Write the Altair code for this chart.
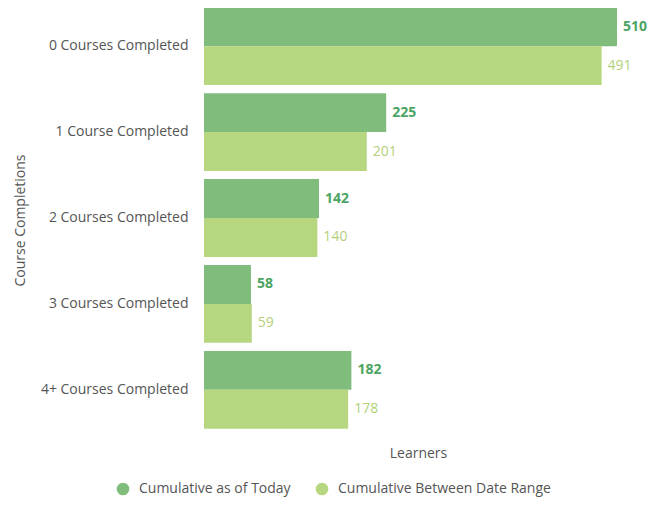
import altair as alt
import pandas as pd

categories = ["0 Courses Completed", "1 Course Completed", "2 Courses Completed",
              "3 Courses Completed", "4+ Courses Completed"]
series = ["Cumulative as of Today", "Cumulative Between Date Range"]
today = [510, 225, 142, 58, 182]
date_range = [491, 201, 140, 59, 178]

bar_colors = ["#80bd7c", "#b6d77f"]
text_colors = ["#4ca463", "#b3d07a"]

rows = []
for c, a, b in zip(categories, today, date_range):
    rows.append({"category": c, "series": series[0], "value": a})
    rows.append({"category": c, "series": series[1], "value": b})
df = pd.DataFrame(rows)

FONT = "Open Sans"
GREY = "#555555"

y_enc = alt.Y("category:N", sort=categories,
              scale=alt.Scale(paddingInner=0.095, paddingOuter=0.05),
              axis=alt.Axis(title="Course Completions", domain=False, ticks=False,
                            labelFontSize=14, labelColor=GREY, labelFont=FONT,
                            labelPadding=16, titleFont=FONT, titleFontSize=14,
                            titleFontWeight="normal", titleColor=GREY,
                            titleX=-184, titleY=217, titleAngle=-90,
                            titleAlign="center", titleBaseline="middle"))
yoff = alt.YOffset("series:N", sort=series)
x_enc = alt.X("value:Q", scale=alt.Scale(domain=[0, 510], nice=False),
              axis=alt.Axis(title="Learners", labels=False, ticks=False, domain=False,
                            grid=False, titleFont=FONT, titleFontSize=14,
                            titleFontWeight="normal", titleColor=GREY,
                            titleX=214, titleY=20, titleAlign="center",
                            titleBaseline="middle"))

bars = alt.Chart(df).mark_bar().encode(
    x=x_enc, y=y_enc, yOffset=yoff,
    color=alt.Color("series:N", sort=series,
                    scale=alt.Scale(domain=series, range=bar_colors),
                    legend=alt.Legend(title=None, orient="none", direction="horizontal",
                                      legendX=-88, legendY=479, symbolType="circle",
                                      symbolSize=160, symbolStrokeWidth=0,
                                      labelFont=FONT, labelFontSize=14, labelLimit=400,
                                      labelColor=GREY, columnPadding=24,
                                      labelOffset=9)),
)

lab_today = alt.Chart(df).transform_filter(alt.datum.series == series[0]).mark_text(
    align="left", baseline="middle", dx=6, fontSize=14, fontWeight="bold",
    font=FONT, color=text_colors[0]
).encode(x="value:Q", y=alt.Y("category:N", sort=categories), yOffset=yoff,
         text="value:Q")

lab_range = alt.Chart(df).transform_filter(alt.datum.series == series[1]).mark_text(
    align="left", baseline="middle", dx=6, fontSize=14,
    font=FONT, color=text_colors[1]
).encode(x="value:Q", y=alt.Y("category:N", sort=categories), yOffset=yoff,
         text="value:Q")

chart = alt.layer(bars, lab_today, lab_range).properties(
    width=413, height=430,
    autosize=alt.AutoSizeParams(type="none"),
    padding={"left": 196, "top": -5, "right": 31, "bottom": 66},
).configure(background="white").configure_view(stroke=None, strokeWidth=0)

chart.save("out.html", embed_options={"renderer": "svg", "actions": False})
